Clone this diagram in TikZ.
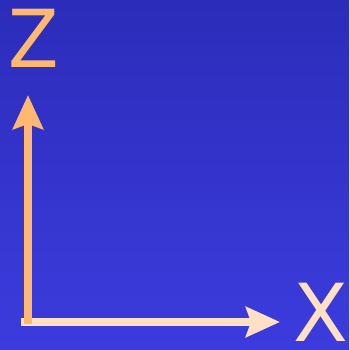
\documentclass[tikz,border=0pt]{standalone}
\usepackage{fontspec}
\setmainfont{DejaVu Sans}
\usetikzlibrary{arrows.meta}
\definecolor{bgtop}{RGB}{44,44,186}
\definecolor{bgbot}{RGB}{60,60,222}
\definecolor{zcol}{RGB}{255,184,112}
\definecolor{xcol}{RGB}{255,224,196}
\tikzset{
  axis/.style={line width=8pt, -{Stealth[length=34pt,width=30pt,inset=5pt]}},
  lbl/.style={inner sep=0pt, anchor=base, font=\fontsize{80}{80}\selectfont}
}
\begin{document}
\begin{tikzpicture}[x=1pt,y=1pt]
\useasboundingbox (0,0) rectangle (349,350);
\shade[top color=bgtop, bottom color=bgbot] (0,0) rectangle (349,350);
\coordinate (xstart) at (21,28);
\coordinate (xend) at (280,28);
\coordinate (zstart) at (28,26);
\coordinate (zend) at (28,255);
\draw[axis, xcol] (xstart) -- (xend);
\draw[axis, zcol] (zstart) -- (zend);
\node[lbl, text=zcol, xscale=0.92] (zl) at (33.5,282) {Z};
\node[lbl, text=xcol] (xl) at (321,9) {X};
\end{tikzpicture}
\end{document}
